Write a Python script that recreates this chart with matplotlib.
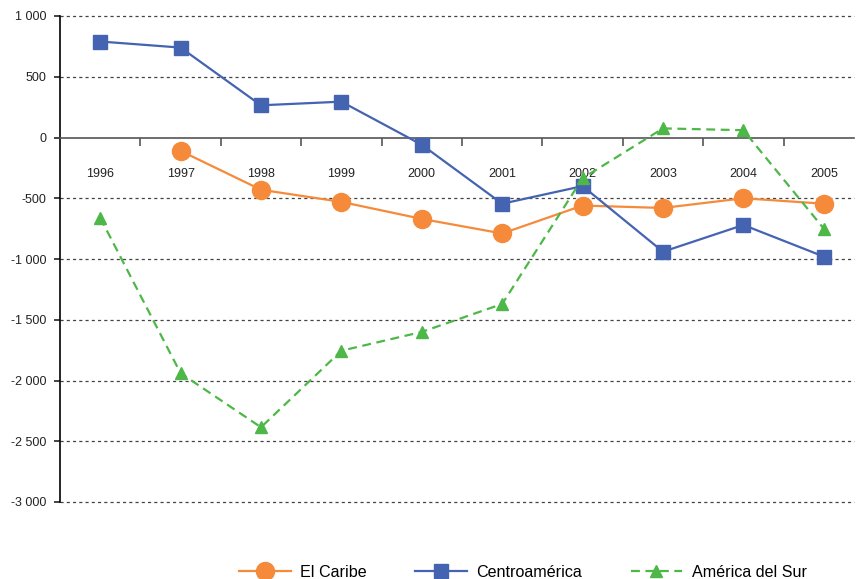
import matplotlib
matplotlib.use("Agg")
import matplotlib.pyplot as plt
import numpy as np
from matplotlib.ticker import FuncFormatter

plt.rcParams['font.family'] = ['Liberation Sans', 'DejaVu Sans']

years = ['1996', '1997', '1998', '1999', '2000', '2001', '2002', '2003', '2004', '2005']
caribe = [np.nan, -110, -430, -530, -670, -790, -560, -580, -500, -545]
centro = [790, 740, 265, 295, -60, -545, -400, -940, -720, -980]
sur = [-660, -1940, -2385, -1755, -1600, -1370, -335, 75, 60, -750]

fig = plt.figure(figsize=(8.56, 5.79), dpi=100)
ax = fig.add_axes([60/856, 1-502/579, 794/856, (502-16)/579])
x = np.arange(len(years))

l1, = ax.plot(x, caribe, color='#F58B3A', lw=1.6, marker='o', ms=13, label='El Caribe', zorder=3)
l2, = ax.plot(x, centro, color='#4463B1', lw=1.6, marker='s', ms=9.5, label='Centroamérica', zorder=4)
l3, = ax.plot(x, sur, color='#4DB848', lw=1.6, ls=(0, (4, 2.5)), marker='^', ms=9, label='América del Sur', zorder=5)

ax.set_yticks([1000, 500, 0, -500, -1000, -1500, -2000, -2500, -3000])
ax.yaxis.set_major_formatter(FuncFormatter(lambda v, p: f"{int(v):,}".replace(',', ' ')))
for yv in [1000, 500, -500, -1000, -1500, -2000, -2500, -3000]:
    ax.axhline(yv, color='#444444', lw=0.9, ls=(0, (2.5, 2.5)), zorder=1, clip_on=False)

ax.spines['top'].set_visible(False)
ax.spines['right'].set_visible(False)
ax.spines['bottom'].set_position(('data', 0))
ax.spines['bottom'].set_color('#555555')
ax.spines['bottom'].set_linewidth(1.2)
ax.spines['left'].set_linewidth(1.2)

ax.set_xticks(x)
ax.set_xticklabels(years)
ax.set_xticks(np.arange(0.5, 9.0, 1), minor=True)
ax.set_ylim(-3000, 1000)
ax.set_xlim(-0.5, -0.5 + 794/80.4)
ax.tick_params(axis='x', which='major', length=0, pad=22, labelsize=9, colors='#222222')
ax.tick_params(axis='x', which='minor', length=6, width=1.2, color='#555555', direction='out')
ax.tick_params(axis='y', length=4, width=1.2, labelsize=9, colors='#222222', pad=6)

fig.legend(handles=[l1, l2, l3], loc='center', bbox_to_anchor=(0.611, 0.012), ncol=3,
           frameon=False, fontsize=11.6, handlelength=3.2, columnspacing=3.0, handletextpad=0.6)

fig.savefig('out.png', dpi=100)
